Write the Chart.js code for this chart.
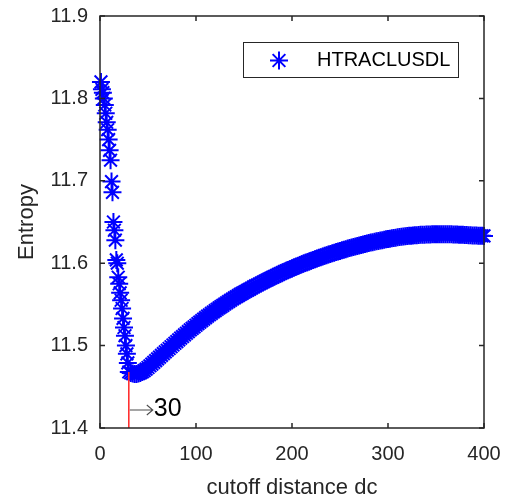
<!DOCTYPE html>
<html>
<head>
<meta charset="utf-8">
<script src="https://cdn.jsdelivr.net/npm/chart.js@4.4.1/dist/chart.umd.min.js"></script>
<style>
  html, body { margin: 0; padding: 0; background: #fff; }
  canvas { display: block; }
</style>
</head>
<body>
<canvas id="chart" width="510" height="501"></canvas>
<script>
// Entropy of the clustering result as a function of the cutoff distance dc
const seriesName = 'HTRACLUSDL';

const dcValues = [
  1, 2, 3, 4, 5, 6, 7, 8, 9, 10,
  11, 12, 13, 14, 15, 16, 17, 18, 19, 20,
  21, 22, 23, 24, 25, 26, 27, 28, 29, 30,
  32, 34, 36, 38, 40, 42, 44, 46, 48, 50,
  52, 54, 56, 58, 60, 62, 64, 66, 68, 70,
  72, 74, 76, 78, 80, 82, 84, 86, 88, 90,
  92, 94, 96, 98, 100, 102, 104, 106, 108, 110,
  112, 114, 116, 118, 120, 122, 124, 126, 128, 130,
  132, 134, 136, 138, 140, 142, 144, 146, 148, 150,
  152, 154, 156, 158, 160, 162, 164, 166, 168, 170,
  172, 174, 176, 178, 180, 182, 184, 186, 188, 190,
  192, 194, 196, 198, 200, 202, 204, 206, 208, 210,
  212, 214, 216, 218, 220, 222, 224, 226, 228, 230,
  232, 234, 236, 238, 240, 242, 244, 246, 248, 250,
  252, 254, 256, 258, 260, 262, 264, 266, 268, 270,
  272, 274, 276, 278, 280, 282, 284, 286, 288, 290,
  292, 294, 296, 298, 300, 302, 304, 306, 308, 310,
  312, 314, 316, 318, 320, 322, 324, 326, 328, 330,
  332, 334, 336, 338, 340, 342, 344, 346, 348, 350,
  352, 354, 356, 358, 360, 362, 364, 366, 368, 370,
  372, 374, 376, 378, 380, 382, 384, 386, 388, 390,
  392, 394, 396, 398, 400
];

const entropyValues = [
  11.820, 11.811, 11.807, 11.800, 11.792, 11.782, 11.771, 11.762, 11.750, 11.737,
  11.725, 11.699, 11.686, 11.650, 11.640, 11.628, 11.604, 11.600, 11.583, 11.575,
  11.564, 11.555, 11.545, 11.533, 11.522, 11.512, 11.500, 11.490, 11.479, 11.468,
  11.4668, 11.4660, 11.4656, 11.4656, 11.4660, 11.4668, 11.4680, 11.4696, 11.4714, 11.4734,
  11.4755, 11.4776, 11.4797, 11.4818, 11.4839, 11.4860, 11.4881, 11.4902, 11.4923, 11.4944,
  11.4965, 11.4986, 11.5007, 11.5028, 11.5049, 11.5070, 11.5090, 11.5110, 11.5130, 11.5150,
  11.5170, 11.5190, 11.5209, 11.5228, 11.5247, 11.5266, 11.5285, 11.5303, 11.5321, 11.5339,
  11.5357, 11.5374, 11.5391, 11.5408, 11.5425, 11.5441, 11.5457, 11.5473, 11.5489, 11.5505,
  11.5520, 11.5535, 11.5550, 11.5565, 11.5579, 11.5593, 11.5607, 11.5621, 11.5634, 11.5647,
  11.5660, 11.5673, 11.5686, 11.5699, 11.5712, 11.5724, 11.5736, 11.5748, 11.5760, 11.5772,
  11.5784, 11.5796, 11.5808, 11.5820, 11.5831, 11.5842, 11.5853, 11.5864, 11.5875, 11.5886,
  11.5897, 11.5907, 11.5917, 11.5927, 11.5937, 11.5947, 11.5957, 11.5967, 11.5977, 11.5986,
  11.5995, 11.6004, 11.6013, 11.6022, 11.6031, 11.6040, 11.6049, 11.6057, 11.6065, 11.6073,
  11.6081, 11.6089, 11.6097, 11.6105, 11.6113, 11.6121, 11.6128, 11.6135, 11.6142, 11.6149,
  11.6156, 11.6163, 11.6170, 11.6177, 11.6184, 11.6191, 11.6197, 11.6203, 11.6209, 11.6215,
  11.6221, 11.6227, 11.6233, 11.6239, 11.6245, 11.6250, 11.6255, 11.6260, 11.6265, 11.6270,
  11.6275, 11.6280, 11.6285, 11.6290, 11.6294, 11.6298, 11.6302, 11.6306, 11.6310, 11.6314,
  11.6317, 11.6320, 11.6323, 11.6326, 11.6329, 11.6332, 11.6334, 11.6336, 11.6338, 11.6340,
  11.6342, 11.6344, 11.6345, 11.6346, 11.6347, 11.6348, 11.6349, 11.6350, 11.6351, 11.6351,
  11.6352, 11.6352, 11.6352, 11.6352, 11.6352, 11.6351, 11.6351, 11.6350, 11.6349, 11.6348,
  11.6347, 11.6346, 11.6345, 11.6344, 11.6343, 11.6342, 11.6340, 11.6338, 11.6337, 11.6336,
  11.6335, 11.6334, 11.6333, 11.6332, 11.6331
];

const xTicks = [0, 100, 200, 300, 400];
const yTicks = [11.4, 11.5, 11.6, 11.7, 11.8, 11.9];

// chosen cutoff distance, marked with a red line and an arrow label
const markDc = 30;

const AXIS_COLOR = '#262626';
const MARKER_COLOR = '#0000ff';
const FONT = "'Liberation Sans', Arial, Helvetica, sans-serif";

Chart.defaults.font.family = FONT;
Chart.defaults.color = AXIS_COLOR;

const points = dcValues.map((d, i) => ({ x: d, y: entropyValues[i] }));

function drawStar(ctx, x, y, r) {
  const d = r * Math.SQRT1_2;
  ctx.beginPath();
  ctx.moveTo(x - r, y); ctx.lineTo(x + r, y);
  ctx.moveTo(x, y - r); ctx.lineTo(x, y + r);
  ctx.moveTo(x - d, y - d); ctx.lineTo(x + d, y + d);
  ctx.moveTo(x - d, y + d); ctx.lineTo(x + d, y - d);
  ctx.stroke();
}

// axes box with inward ticks, the marker line, its label and the legend
const decorations = {
  id: 'decorations',
  afterDatasetsDraw(chart) {
    const { ctx, chartArea: a, scales: { x, y } } = chart;
    ctx.save();

    // red marker line from the curve down to the x axis
    const idx = dcValues.indexOf(markDc);
    const mx = x.getPixelForValue(markDc);
    const my = y.getPixelForValue(entropyValues[idx]);
    ctx.strokeStyle = '#ff3030';
    ctx.lineWidth = 1.6;
    ctx.beginPath();
    ctx.moveTo(mx, my);
    ctx.lineTo(mx, a.bottom);
    ctx.stroke();

    // arrow and value label
    const ay = a.bottom - 18;
    const ax0 = mx + 1, ax1 = mx + 24;
    ctx.strokeStyle = '#4d4d4d';
    ctx.lineWidth = 1.1;
    ctx.beginPath();
    ctx.moveTo(ax0, ay); ctx.lineTo(ax1, ay);
    ctx.moveTo(ax1 - 6, ay - 5); ctx.lineTo(ax1, ay); ctx.lineTo(ax1 - 6, ay + 5);
    ctx.stroke();
    ctx.fillStyle = '#000';
    ctx.font = '25px ' + FONT;
    ctx.textAlign = 'left';
    ctx.textBaseline = 'middle';
    ctx.fillText(String(markDc), ax1 + 1, ay - 1);

    // box
    ctx.strokeStyle = AXIS_COLOR;
    ctx.lineWidth = 1.5;
    ctx.strokeRect(a.left, a.top, a.right - a.left, a.bottom - a.top);

    // inward ticks on all four sides
    const tl = 5;
    ctx.beginPath();
    xTicks.forEach(v => {
      const px = x.getPixelForValue(v);
      ctx.moveTo(px, a.bottom); ctx.lineTo(px, a.bottom - tl);
      ctx.moveTo(px, a.top); ctx.lineTo(px, a.top + tl);
    });
    yTicks.forEach(v => {
      const py = y.getPixelForValue(v);
      ctx.moveTo(a.left, py); ctx.lineTo(a.left + tl, py);
      ctx.moveTo(a.right, py); ctx.lineTo(a.right - tl, py);
    });
    ctx.stroke();

    // legend
    const lx = 243, ly = 42, lw = 215, lh = 35;
    ctx.fillStyle = '#fff';
    ctx.fillRect(lx, ly, lw, lh);
    ctx.strokeStyle = AXIS_COLOR;
    ctx.lineWidth = 1;
    ctx.strokeRect(lx + 0.5, ly + 0.5, lw, lh);
    ctx.strokeStyle = MARKER_COLOR;
    ctx.lineWidth = 2;
    drawStar(ctx, lx + 36, ly + lh / 2 + 1, 9);
    ctx.fillStyle = '#000';
    ctx.font = '20px ' + FONT;
    ctx.textAlign = 'left';
    ctx.textBaseline = 'middle';
    ctx.fillText(seriesName, lx + 74, ly + lh / 2 + 1);

    ctx.restore();
  }
};

new Chart(document.getElementById('chart'), {
  type: 'scatter',
  data: {
    datasets: [{
      label: seriesName,
      data: points,
      showLine: false,
      pointStyle: 'star',
      pointRadius: 9,
      pointBorderWidth: 2,
      pointBorderColor: MARKER_COLOR,
      pointBackgroundColor: MARKER_COLOR,
      borderColor: MARKER_COLOR,
      clip: false
    }]
  },
  options: {
    responsive: false,
    animation: false,
    events: [],
    devicePixelRatio: 1,
    layout: { padding: { top: 16, right: 26, left: 0, bottom: 0 } },
    plugins: {
      legend: { display: false },
      tooltip: { enabled: false }
    },
    scales: {
      x: {
        type: 'linear',
        min: 0,
        max: 400,
        afterBuildTicks: s => { s.ticks = xTicks.map(v => ({ value: v })); },
        afterFit: s => {
          s.height = 73;
          s.paddingLeft = 0; s.paddingRight = 0;
        },
        grid: { display: false, drawTicks: false },
        border: { display: false },
        ticks: { font: { size: 20 }, color: AXIS_COLOR, padding: 14, maxRotation: 0, autoSkip: false },
        title: {
          display: true,
          text: 'cutoff distance dc',
          font: { size: 22 },
          color: AXIS_COLOR,
          padding: { top: 0, bottom: 0 }
        }
      },
      y: {
        type: 'linear',
        min: 11.4,
        max: 11.9,
        afterBuildTicks: s => { s.ticks = yTicks.map(v => ({ value: v })); },
        afterFit: s => {
          s.width = 100;
          s.paddingTop = 0; s.paddingBottom = 0;
        },
        grid: { display: false, drawTicks: false },
        border: { display: false },
        ticks: {
          font: { size: 20 },
          color: AXIS_COLOR,
          padding: 12,
          autoSkip: false,
          callback: v => Number(v).toFixed(1)
        },
        title: {
          display: true,
          text: 'Entropy',
          font: { size: 22 },
          color: AXIS_COLOR,
          padding: { top: 14, bottom: 0 }
        }
      }
    }
  },
  plugins: [decorations]
});
</script>
</body>
</html>
